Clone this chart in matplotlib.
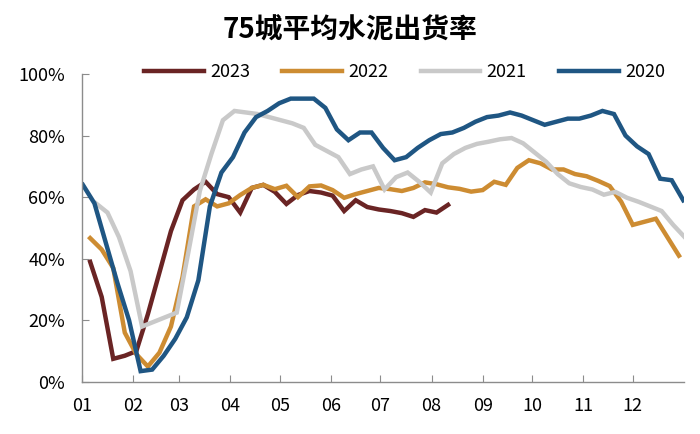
import numpy as np
import matplotlib
matplotlib.use("Agg")
import matplotlib.pyplot as plt
from matplotlib.ticker import PercentFormatter

plt.rcParams['font.family'] = ['Noto Sans CJK SC', 'DejaVu Sans']

# weekly shipment rate (%), first point given as day-of-year offset
start_2023 = 5
rate_2023 = [39, 27.6, 7.5, 8.5, 10, 22, 35.5, 49, 59, 62.5, 65, 61, 60, 55, 63, 64,
             61.7, 57.8, 60.7, 62, 61.5, 60.5, 55.5, 59, 56.8, 56, 55.5, 54.8, 53.6,
             55.8, 55, 57.5]

start_2022 = 5
rate_2022 = [46.7, 43, 37, 16, 9, 5, 9.5, 18, 34, 57, 59.3, 57, 58, 60.7, 63, 64,
             62.6, 63.7, 60, 63.5, 63.8, 62.3, 59.8, 61, 62, 63, 62.6, 62, 63, 64.8,
             64.2, 63.2, 62.7, 61.8, 62.3, 65, 64, 69.5, 72, 71, 69, 69, 67.5, 66.8,
             65.3, 63.6, 58.5, 51, 52, 53, 47, 41]

start_2021 = 8.5
rate_2021 = [58, 55, 47, 36, 18, 19.5, 21, 22.5, 42, 62, 74, 85, 88, 87.5, 87, 86,
             85, 84, 82.5, 77, 75, 73, 67.5, 69, 70, 62.5, 66.5, 68, 65, 61.5, 71, 74,
             76, 77.3, 78, 78.8, 79.2, 77.5, 74.5, 71.5, 67.5, 64.5, 63.3, 62.5, 60.8,
             61.7, 59.8, 58.5, 57, 55.5, 51, 47]

start_2020 = 0.6
rate_2020 = [64, 58, 45, 32, 20, 3.5, 4, 8.5, 14, 21, 33, 57, 68, 73, 81, 86, 88,
             90.5, 92, 92, 92, 89, 82, 78.5, 81, 81, 76, 72, 73, 76, 78.5, 80.5, 81,
             82.5, 84.5, 86, 86.5, 87.5, 86.5, 85, 83.5, 84.5, 85.5, 85.5, 86.5, 88,
             87, 80, 76.5, 74, 66, 65.5, 59]

years = ['2023', '2022', '2021', '2020']
starts = [start_2023, start_2022, start_2021, start_2020]
series = [rate_2023, rate_2022, rate_2021, rate_2020]
colors = ['#6A2424', '#CD8C32', '#C9C9C9', '#1F5683']

month_days = [0, 31, 59, 90, 120, 151, 181, 212, 243, 273, 304, 334]
month_labels = ['01', '02', '03', '04', '05', '06', '07', '08', '09', '10', '11', '12']

fig = plt.figure(figsize=(7, 4.34), dpi=100)
ax = fig.add_axes([0.117, 0.12, 0.86, 0.7095])

for yr, s0, vals, c in zip(years, starts, series, colors):
    v = np.array(vals) / 100.0
    x = s0 + 7 * np.arange(len(v))
    ax.plot(x, v, color=c, lw=3.2, label=yr, solid_joinstyle='miter')

ax.set_xlim(0, 365)
ax.set_ylim(0, 1)
ax.set_yticks(np.arange(0, 1.01, 0.2))
ax.yaxis.set_major_formatter(PercentFormatter(1.0, decimals=0))
ax.set_xticks(month_days)
ax.set_xticklabels(month_labels)

for side in ['top', 'right']:
    ax.spines[side].set_visible(False)
for side in ['left', 'bottom']:
    ax.spines[side].set_color('#8C8C8C')
    ax.spines[side].set_linewidth(1.0)
ax.tick_params(axis='both', direction='in', colors='#8C8C8C', labelcolor='black',
               labelsize=13, length=5)
ax.tick_params(axis='x', pad=11)
ax.tick_params(axis='y', pad=12)

fig.legend(loc='center', bbox_to_anchor=(0.578, 0.834), ncol=4, frameon=False,
           fontsize=13, handlelength=3.3, handletextpad=0.35, columnspacing=1.8)

fig.text(0.5, 0.93, '75城平均水泥出货率', ha='center', va='center',
         fontsize=20, fontweight='bold')

fig.savefig('out.png', dpi=100)
